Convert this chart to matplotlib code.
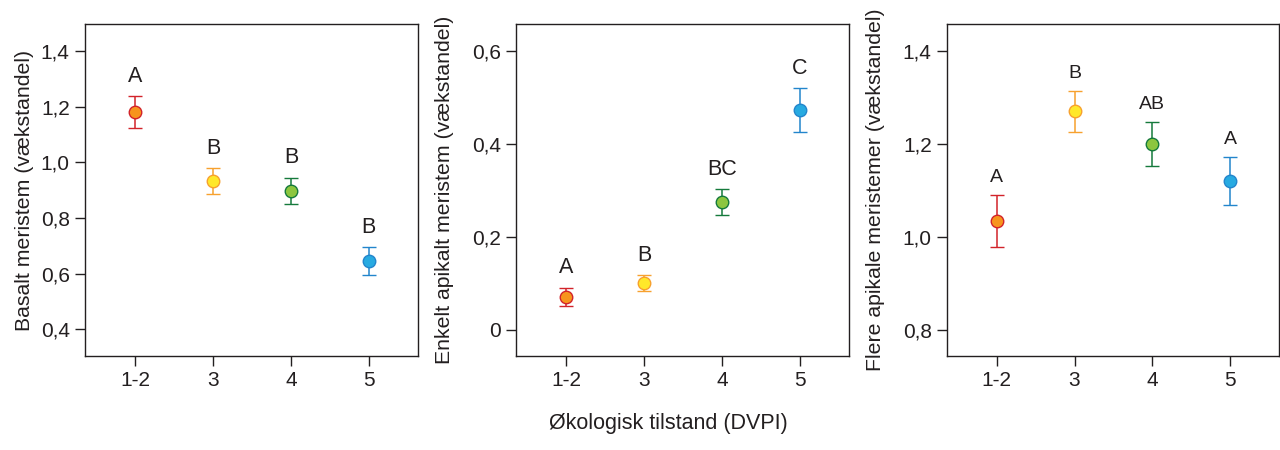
import matplotlib
matplotlib.use("Agg")
import matplotlib.pyplot as plt

plt.rcParams["font.family"] = ["Liberation Sans", "DejaVu Sans"]

# Data (means, error bar half-widths, group letters)
categories = ["1-2", "3", "4", "5"]

basal_mean = [1.18, 0.932, 0.897, 0.646]
basal_err = [0.057, 0.047, 0.048, 0.05]
basal_letters = ["A", "B", "B", "B"]

single_mean = [0.071, 0.101, 0.274, 0.472]
single_err = [0.02, 0.017, 0.028, 0.047]
single_letters = ["A", "B", "BC", "C"]

multi_mean = [1.035, 1.27, 1.2, 1.12]
multi_err = [0.056, 0.044, 0.047, 0.052]
multi_letters = ["A", "B", "AB", "A"]

# Marker fill / edge colours per DVPI class
FILL = ["#F7941D", "#FFE82A", "#8CC63F", "#27AAE1"]
EDGE = ["#D2232A", "#F7A12E", "#157A3C", "#2285CC"]

panels = [
    dict(mean=basal_mean, err=basal_err, letters=basal_letters,
         ylabel="Basalt meristem (vækstandel)", ylim=(0.304, 1.497),
         yticks=[0.4, 0.6, 0.8, 1.0, 1.2, 1.4],
         yticklabels=["0,4", "0,6", "0,8", "1,0", "1,2", "1,4"],
         pos=[85, 418], fs=15.5, off=0.033, lpad=5),
    dict(mean=single_mean, err=single_err, letters=single_letters,
         ylabel="Enkelt apikalt meristem (vækstandel)", ylim=(-0.056, 0.657),
         yticks=[0, 0.2, 0.4, 0.6],
         yticklabels=["0", "0,2", "0,4", "0,6"],
         pos=[516, 849], fs=15.5, off=0.02, lpad=13),
    dict(mean=multi_mean, err=multi_err, letters=multi_letters,
         ylabel="Flere apikale meristemer (vækstandel)", ylim=(0.744, 1.458),
         yticks=[0.8, 1.0, 1.2, 1.4],
         yticklabels=["0,8", "1,0", "1,2", "1,4"],
         pos=[947, 1279], fs=14, off=0.019, lpad=13),
]

W, H = 1280, 450
fig = plt.figure(figsize=(12.8, 4.5), dpi=100)

for p in panels:
    x0, x1 = p["pos"]
    ax = fig.add_axes([x0 / W, 1 - 356 / H, (x1 - x0) / W, (356 - 24) / H])
    for i, cat in enumerate(categories):
        ax.errorbar(i, p["mean"][i], yerr=p["err"][i], fmt="o",
                    color=EDGE[i], ecolor=EDGE[i], elinewidth=1.1,
                    capsize=5, capthick=1.1, markersize=9,
                    markerfacecolor=FILL[i], markeredgecolor=EDGE[i],
                    markeredgewidth=1.0, zorder=3)
        top = p["mean"][i] + p["err"][i]
        ax.text(i, top + p["off"], p["letters"][i], ha="center", va="bottom",
                fontsize=p["fs"], color="#231F20")
    ax.set_xlim(-0.64, 3.63)
    ax.set_ylim(*p["ylim"])
    ax.set_xticks(range(len(categories)))
    ax.set_xticklabels(categories)
    ax.set_yticks(p["yticks"])
    ax.set_yticklabels(p["yticklabels"])
    ax.tick_params(length=7, width=1, color="#231F20", labelsize=15,
                   labelcolor="#231F20", pad=4)
    ax.set_ylabel(p["ylabel"], fontsize=15.3, color="#231F20",
                  labelpad=p["lpad"])
    for s in ax.spines.values():
        s.set_color("#231F20")
        s.set_linewidth(1.0)

fig.text(668 / W, 1 - 423 / H, "Økologisk tilstand (DVPI)", ha="center",
         va="center", fontsize=15.5, color="#231F20")

fig.savefig("out.png", dpi=100, facecolor="white")
